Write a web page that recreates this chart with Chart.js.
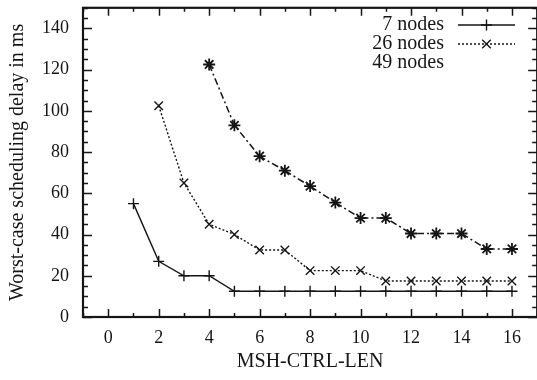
<!DOCTYPE html>
<html>
<head>
<meta charset="utf-8">
<script src="https://cdn.jsdelivr.net/npm/chart.js@4"></script>
<style>
  html, body { margin: 0; padding: 0; background: #fff; overflow: hidden; }
  #wrap { width: 545px; height: 380px; }
</style>
</head>
<body>
<div id="wrap"><canvas id="c" width="545" height="380"></canvas></div>
<script>
// ---- data ----
const seriesNames = ['7 nodes', '26 nodes', '49 nodes'];
const nodes7X  = [1, 2, 3, 4, 5, 6, 7, 8, 9, 10, 11, 12, 13, 14, 15, 16];
const nodes7Y  = [55, 27, 20, 20, 12.5, 12.5, 12.5, 12.5, 12.5, 12.5, 12.5, 12.5, 12.5, 12.5, 12.5, 12.5];
const nodes26X = [2, 3, 4, 5, 6, 7, 8, 9, 10, 11, 12, 13, 14, 15, 16];
const nodes26Y = [102.5, 65, 45, 40, 32.5, 32.5, 22.5, 22.5, 22.5, 17.5, 17.5, 17.5, 17.5, 17.5, 17.5];
const nodes49X = [4, 5, 6, 7, 8, 9, 10, 11, 12, 13, 14, 15, 16];
const nodes49Y = [122.5, 93, 78, 71, 63.5, 55.5, 48, 48, 40.5, 40.5, 40.5, 33, 33];
const xTickLabels = [0, 2, 4, 6, 8, 10, 12, 14, 16];
const yTickLabels = [0, 20, 40, 60, 80, 100, 120, 140];
const xTitle = 'MSH-CTRL-LEN';
const yTitle = 'Worst-case scheduling delay in ms';

const ink = '#151515';
const FONT = '"Liberation Serif", "Times New Roman", serif';

function pts(xs, ys) { return xs.map((x, i) => ({ x: x, y: ys[i] })); }

const legendSample = [true, true, false];

const frameTicks = {
  id: 'frameTicks',
  afterDraw(chart) {
    const { ctx, chartArea: a, scales: { x, y } } = chart;
    ctx.save();
    ctx.strokeStyle = ink;
    ctx.lineWidth = 1.5;
    ctx.beginPath();
    for (let v = -1; v <= 17; v++) {
      const px = Math.round(x.getPixelForValue(v)) + 0.5;
      const len = (v % 2 === 0) ? 8 : 4;
      ctx.moveTo(px, a.bottom); ctx.lineTo(px, a.bottom - len);
      ctx.moveTo(px, a.top); ctx.lineTo(px, a.top + len);
    }
    for (let v = 0; v <= 150; v += 5) {
      const py = Math.round(y.getPixelForValue(v)) + 0.5;
      const len = (v % 20 === 0) ? 9 : 5;
      ctx.moveTo(a.left, py); ctx.lineTo(a.left + len, py);
      ctx.moveTo(a.right, py); ctx.lineTo(a.right - len, py);
    }
    ctx.stroke();
    ctx.lineWidth = 2.2;
    ctx.strokeRect(a.left, a.top, a.right - a.left, a.bottom - a.top);
    ctx.restore();
  }
};

const innerLegend = {
  id: 'innerLegend',
  afterDraw(chart) {
    const { ctx } = chart;
    const textRight = 444, lineL = 458, lineR = 515;
    const rows = [25, 44, 63];
    ctx.save();
    ctx.font = '20px ' + FONT;
    ctx.fillStyle = ink;
    ctx.textAlign = 'right';
    ctx.textBaseline = 'middle';
    chart.data.datasets.forEach((ds, i) => {
      const yy = rows[i];
      ctx.fillText(ds.label, textRight, yy);
      if (!legendSample[i]) return;
      ctx.strokeStyle = ds.borderColor;
      ctx.lineWidth = ds.borderWidth;
      ctx.setLineDash(ds.borderDash || []);
      ctx.beginPath();
      ctx.moveTo(lineL, yy); ctx.lineTo(lineR, yy);
      ctx.stroke();
      ctx.setLineDash([]);
      Chart.helpers.drawPoint(ctx, {
        pointStyle: ds.pointStyle, radius: ds.pointRadius, borderWidth: ds.pointBorderWidth, rotation: 0
      }, (lineL + lineR) / 2, yy);
    });
    ctx.restore();
  }
};

new Chart(document.getElementById('c'), {
  type: 'line',
  data: {
    datasets: [
      {
        label: seriesNames[0], data: pts(nodes7X, nodes7Y),
        borderColor: ink, backgroundColor: ink, borderWidth: 1.4,
        pointStyle: 'cross', pointRadius: 5.5, pointBorderWidth: 1.4, pointBorderColor: ink
      },
      {
        label: seriesNames[1], data: pts(nodes26X, nodes26Y),
        borderColor: ink, backgroundColor: ink, borderWidth: 1.4, borderDash: [2, 2],
        pointStyle: 'crossRot', pointRadius: 6, pointBorderWidth: 1.4, pointBorderColor: ink
      },
      {
        label: seriesNames[2], data: pts(nodes49X, nodes49Y),
        borderColor: ink, backgroundColor: ink, borderWidth: 1.5, borderDash: [7, 3, 2, 3],
        pointStyle: 'star', pointRadius: 6, pointBorderWidth: 1.8, pointBorderColor: ink
      }
    ]
  },
  options: {
    responsive: false,
    animation: false,
    events: [],
    layout: { padding: { left: 0, right: 5, top: 5, bottom: 0 } },
    plugins: { legend: { display: false }, tooltip: { enabled: false } },
    elements: { line: { tension: 0 } },
    scales: {
      x: {
        type: 'linear', min: -1, max: 17,
        grid: { display: false, drawTicks: false },
        border: { display: false },
        afterBuildTicks: s => { s.ticks = xTickLabels.map(v => ({ value: v })); },
        afterFit: s => { s.height = 63; s.paddingLeft = 0; s.paddingRight = 0; },
        ticks: { color: ink, font: { family: FONT, size: 18 }, padding: 10, maxRotation: 0, autoSkip: false },
        title: { display: true, text: xTitle, color: ink, font: { family: FONT, size: 20 }, padding: { top: 4, bottom: 6 } }
      },
      y: {
        type: 'linear', min: 0, max: 150,
        grid: { display: false, drawTicks: false },
        border: { display: false },
        afterBuildTicks: s => { s.ticks = yTickLabels.map(v => ({ value: v })); },
        afterFit: s => { s.width = 83; s.paddingTop = 0; s.paddingBottom = 0; },
        ticks: { color: ink, font: { family: FONT, size: 18 }, padding: 14, autoSkip: false },
        title: { display: true, text: yTitle, color: ink, font: { family: FONT, size: 20 }, padding: { top: 6, bottom: 4 } }
      }
    }
  },
  plugins: [frameTicks, innerLegend]
});
</script>
</body>
</html>
